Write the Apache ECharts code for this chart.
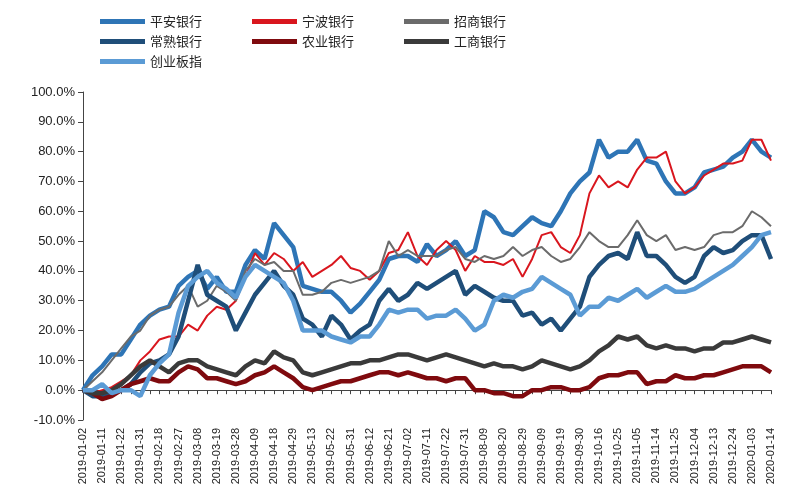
<!DOCTYPE html>
<html><head><meta charset="utf-8">
<script src="https://cdn.jsdelivr.net/npm/echarts@6/dist/echarts.min.js"></script>
<style>html,body{margin:0;padding:0;background:#fff}#c{width:800px;height:500px}</style>
</head><body><div id="c"></div>
<script>
const dates = ["2019-01-02","2019-01-07","2019-01-11","2019-01-16","2019-01-22","2019-01-25","2019-01-31","2019-02-12","2019-02-18","2019-02-22","2019-02-27","2019-03-04","2019-03-08","2019-03-13","2019-03-19","2019-03-22","2019-03-28","2019-04-03","2019-04-09","2019-04-12","2019-04-18","2019-04-24","2019-04-29","2019-05-07","2019-05-13","2019-05-16","2019-05-22","2019-05-27","2019-05-31","2019-06-05","2019-06-12","2019-06-17","2019-06-21","2019-06-26","2019-07-02","2019-07-05","2019-07-11","2019-07-16","2019-07-22","2019-07-25","2019-07-31","2019-08-05","2019-08-09","2019-08-14","2019-08-20","2019-08-23","2019-08-29","2019-09-03","2019-09-09","2019-09-12","2019-09-19","2019-09-24","2019-09-30","2019-10-10","2019-10-16","2019-10-21","2019-10-25","2019-10-30","2019-11-05","2019-11-08","2019-11-14","2019-11-19","2019-11-25","2019-11-28","2019-12-04","2019-12-09","2019-12-13","2019-12-18","2019-12-24","2019-12-27","2020-01-03","2020-01-09","2020-01-14"];
const pingan = [0,5,8,12,12,17,22,25,27,28,35,38,40,34,38,33,33,42,47,44,56,52,48,35,34,33,33,30,26,29,33,37,44,45,45,43,49,45,47,50,45,47,60,58,53,52,55,58,56,55,60,66,70,73,84,78,80,80,84,77,76,70,66,66,68,73,74,75,78,80,84,80,78];
const ningbo = [0,-1,0,1,3,5,10,13,17,18,18,22,20,25,28,27,30,38,46,42,46,44,40,43,38,40,42,45,41,40,37,40,46,47,53,45,42,47,50,47,40,45,43,43,42,44,38,44,52,53,48,46,52,66,72,68,70,68,74,78,78,80,70,66,68,72,74,76,76,77,84,84,77];
const zhaoshang = [0,3,6,10,14,18,20,25,27,28,32,35,28,30,35,33,30,40,44,42,43,40,40,32,32,33,36,37,36,37,38,40,50,45,47,45,45,45,47,48,44,43,45,44,45,48,45,47,48,45,43,44,48,53,50,48,48,52,57,52,50,52,47,48,47,48,52,53,53,55,60,58,55];
const changshu = [0,-2,-2,-1,0,2,6,9,10,12,18,30,42,32,30,28,20,26,32,36,40,35,32,24,22,18,25,22,17,20,22,30,34,30,32,36,34,36,38,40,32,35,33,31,30,30,25,26,22,24,20,24,28,38,42,45,46,44,53,45,45,42,38,36,38,45,48,46,47,50,52,52,44];
const nongye = [0,-1,-3,-2,0,2,3,4,3,3,6,8,7,4,4,3,2,3,5,6,8,6,4,1,0,1,2,3,3,4,5,6,6,5,6,5,4,4,3,4,4,0,0,-1,-1,-2,-2,0,0,1,1,0,0,1,4,5,5,6,6,2,3,3,5,4,4,5,5,6,7,8,8,8,6];
const gongshang = [0,-1,-1,0,2,5,8,10,8,6,9,10,10,8,7,6,5,8,10,9,13,11,10,6,5,6,7,8,9,9,10,10,11,12,12,11,10,11,12,11,10,9,8,9,8,8,7,8,10,9,8,7,8,10,13,15,18,17,18,15,14,15,14,14,13,14,14,16,16,17,18,17,16];
const chuangye = [0,0,2,-1,0,0,-2,5,9,12,26,35,38,40,36,34,31,38,42,40,38,36,30,20,20,20,18,17,16,18,18,22,27,26,27,27,24,25,25,27,24,20,22,30,32,31,33,34,38,36,34,32,25,28,28,31,30,32,34,31,33,35,33,33,34,36,38,40,42,45,48,52,53];
const names = ["平安银行","宁波银行","招商银行","常熟银行","农业银行","工商银行","创业板指"];
const yTicks = {min:-10,max:100,interval:10};

const defs = [
  [pingan,"#2E75B6",4.5],[ningbo,"#D9161E",2],[zhaoshang,"#6B6B6B",2],
  [changshu,"#1F4E79",4.5],[nongye,"#7F0A0E",4.5],[gongshang,"#3A3A3A",4.5],[chuangye,"#5B9BD5",4.5]
];
const series = defs.map((d,i)=>({name:names[i],type:'line',data:d[0],symbol:'none',smooth:false,
  lineStyle:{color:d[1],width:d[2]},itemStyle:{color:d[1]},xAxisIndex:0}));
const legBase = {left:100,itemGap:50,itemWidth:45,itemHeight:5,icon:'rect',padding:0,
  textStyle:{fontSize:13,color:'#222',fontFamily:'Noto Sans CJK SC'}};
const chart = echarts.init(document.getElementById('c'));
chart.setOption({
  animation:false,
  legend:[
    Object.assign({},legBase,{top:15,data:names.slice(0,3)}),
    Object.assign({},legBase,{top:35,data:names.slice(3,6)}),
    Object.assign({},legBase,{top:55,data:names.slice(6)})
  ],
  grid:{left:83,right:29,top:92,bottom:80},
  xAxis:[
    {type:'category',data:dates,boundaryGap:false,position:'bottom',axisLine:{show:false,onZero:false},
     axisTick:{show:false},axisLabel:{rotate:90,interval:1,fontSize:11,color:'#222',fontFamily:'Liberation Sans'}},
    {type:'category',data:dates,boundaryGap:false,position:'bottom',axisLine:{onZero:true,lineStyle:{color:'#444'}},
     axisTick:{show:true,interval:0,length:4,lineStyle:{color:'#444'}},axisLabel:{show:false}}
  ],
  yAxis:{type:'value',min:yTicks.min,max:yTicks.max,interval:yTicks.interval,
    axisLine:{show:true,lineStyle:{color:'#444'}},axisTick:{show:true,lineStyle:{color:'#444'}},splitLine:{show:false},
    axisLabel:{formatter:v=>v.toFixed(1)+'%',fontSize:13,color:'#222',fontFamily:'Liberation Sans'}},
  series:series
});
</script></body></html>
